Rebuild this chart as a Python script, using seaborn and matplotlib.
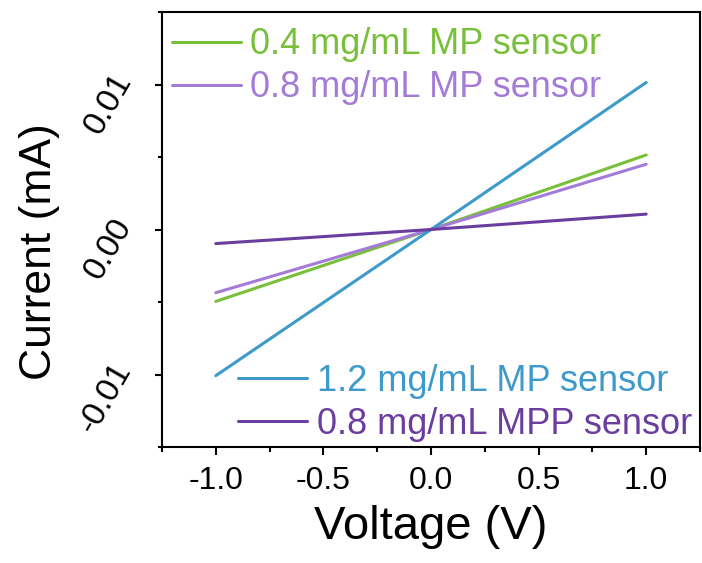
import matplotlib
matplotlib.use("Agg")
import matplotlib.pyplot as plt
from matplotlib.ticker import MultipleLocator, FormatStrFormatter
from matplotlib.transforms import ScaledTranslation
from matplotlib.lines import Line2D
import pandas
import seaborn

VOLTAGE = [-1.0, -0.5, 0.0, 0.5, 1.0]
CUR_04_MP = [-0.00496, -0.00248, 0.0, 0.00257, 0.00514]
CUR_08_MP = [-0.00436, -0.00218, 0.0, 0.00225, 0.00450]
CUR_12_MP = [-0.01008, -0.00504, 0.0, 0.00507, 0.01014]
CUR_08_MPP = [-0.00097, -0.00049, 0.0, 0.00053, 0.00106]

SERIES = {
    "0.4 mg/mL MP sensor": CUR_04_MP,
    "0.8 mg/mL MP sensor": CUR_08_MP,
    "1.2 mg/mL MP sensor": CUR_12_MP,
    "0.8 mg/mL MPP sensor": CUR_08_MPP,
}

PALETTE = {
    "0.4 mg/mL MP sensor": "#78bf3a",
    "0.8 mg/mL MP sensor": "#a47bd6",
    "1.2 mg/mL MP sensor": "#3d9acb",
    "0.8 mg/mL MPP sensor": "#6a3d9e",
}

seaborn.set_style("ticks")
plt.rcParams["font.family"] = ["Liberation Sans", "DejaVu Sans"]
plt.rcParams["text.color"] = "black"
plt.rcParams["axes.labelcolor"] = "black"
plt.rcParams["xtick.color"] = "black"
plt.rcParams["ytick.color"] = "black"

rows = []
for name, values in SERIES.items():
    for v, c in zip(VOLTAGE, values):
        rows.append([v, c, name])
df = pandas.DataFrame(rows, columns=["voltage", "current", "sensor"])

fig = plt.figure(figsize=(7.02, 5.63), dpi=100)
ax = fig.add_axes([162 / 702, (563 - 447) / 563, (700 - 162) / 702, (447 - 12) / 563])

seaborn.lineplot(data=df, x="voltage", y="current", hue="sensor",
                 palette=PALETTE, linewidth=2.2, legend=False, ax=ax)

ax.set_xlim(-1.25, 1.25)
ax.set_ylim(-0.015, 0.015)
ax.xaxis.set_major_locator(MultipleLocator(0.5))
ax.xaxis.set_minor_locator(MultipleLocator(0.25))
ax.yaxis.set_major_locator(MultipleLocator(0.01))
ax.yaxis.set_minor_locator(MultipleLocator(0.005))
ax.xaxis.set_major_formatter(FormatStrFormatter("%.1f"))
ax.yaxis.set_major_formatter(FormatStrFormatter("%.2f"))

for sp in ax.spines.values():
    sp.set_linewidth(1.5)
    sp.set_color("black")

ax.tick_params(axis="x", which="major", direction="out", length=6, width=1.5,
               labelsize=23, pad=8, top=False)
ax.tick_params(axis="x", which="minor", direction="out", length=3.5, width=1.5, top=False)
ax.tick_params(axis="y", which="major", direction="out", length=5, width=1.5,
               labelsize=24, pad=22, right=False)
ax.tick_params(axis="y", which="minor", direction="out", length=3, width=1.5, right=False)

ax.set_xlabel("Voltage (V)", fontsize=34)
ax.xaxis.set_label_coords(0.5, -0.134)
ax.set_ylabel("Current (mA)", fontsize=32)
ax.yaxis.set_label_coords(-0.19, 0.45)

names = list(SERIES.keys())
handles = {n: Line2D([], [], color=PALETTE[n], linewidth=2.2) for n in names}

leg_kw = dict(frameon=False, fontsize=26, borderpad=0, borderaxespad=0,
              handlelength=1.9, handletextpad=0.27, labelspacing=0.22,
              labelcolor="linecolor")
leg1 = ax.legend([handles[n] for n in names[:2]], names[:2], loc="upper left",
                 bbox_to_anchor=(0.0186, 0.965), **leg_kw)
ax.add_artist(leg1)
leg2 = ax.legend([handles[n] for n in names[2:]], names[2:], loc="lower right",
                 bbox_to_anchor=(0.985, 0.012), **leg_kw)

# rotated y tick labels, anchored at their right end and nudged up a bit
fig.canvas.draw()
shift = ScaledTranslation(0, 9 / 100, fig.dpi_scale_trans)
for tick in ax.yaxis.get_major_ticks():
    lab = tick.label1
    lab.set_rotation(60)
    lab.set_rotation_mode("anchor")
    lab.set_horizontalalignment("right")
    lab.set_verticalalignment("center")
    lab.set_transform(lab.get_transform() + shift)

fig.savefig("out.png", dpi=100)
